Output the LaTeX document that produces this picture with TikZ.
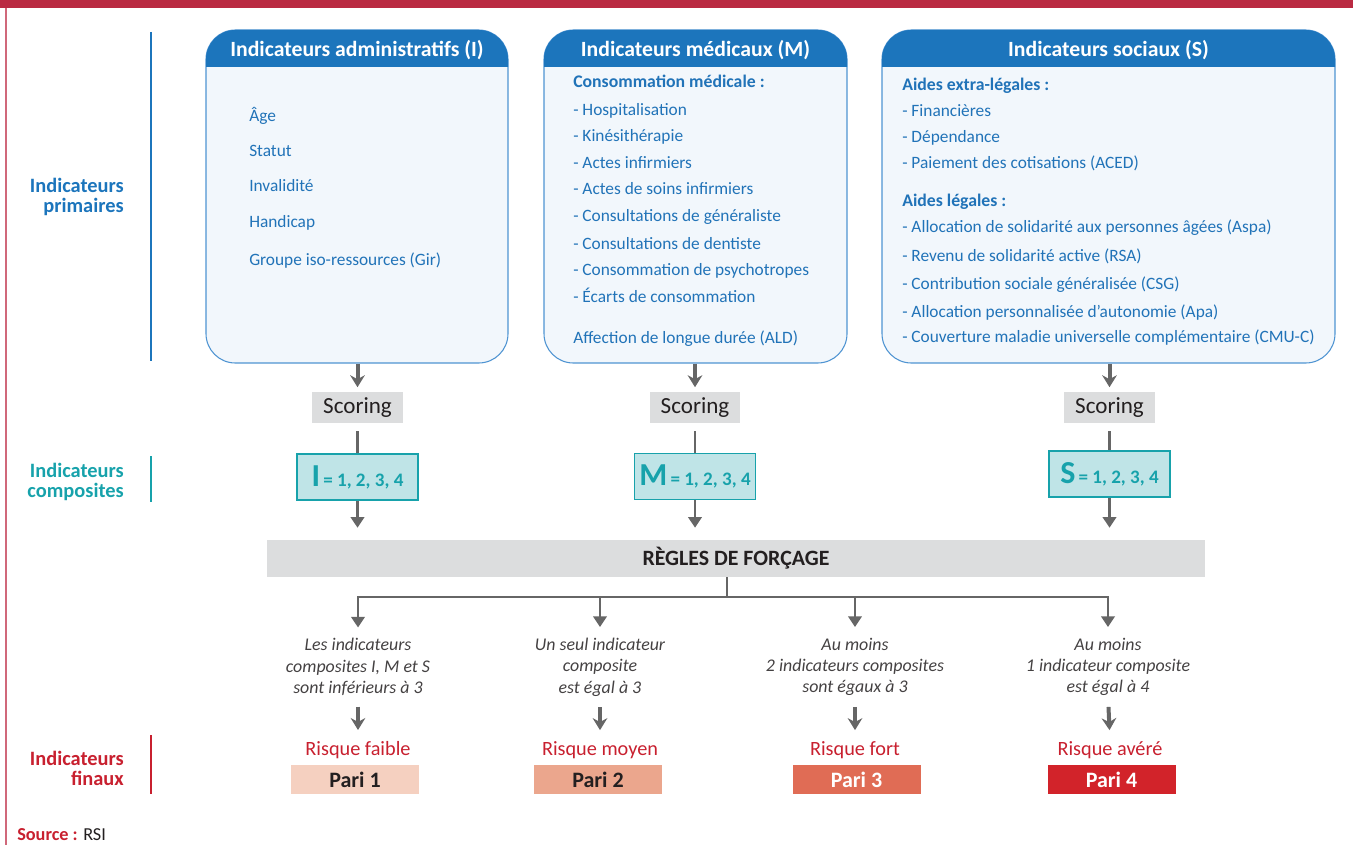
\documentclass[tikz,border=0pt]{standalone}
\usepackage{fontspec}
\setmainfont{Carlito}
\usetikzlibrary{arrows.meta,fit,positioning}

\definecolor{topred}{HTML}{BA2A42}
\definecolor{framered}{HTML}{D0687A}
\definecolor{hdrblue}{HTML}{1C75BC}
\definecolor{boxline}{HTML}{4F94D2}
\definecolor{boxfill}{HTML}{F2F7FC}
\definecolor{txtblue}{HTML}{2173B8}
\definecolor{tealc}{HTML}{17A2AB}
\definecolor{tealfill}{HTML}{BFE4E7}
\definecolor{labred}{HTML}{C8202F}
\definecolor{greyfill}{HTML}{DCDDDE}
\definecolor{arrgrey}{HTML}{666666}
\definecolor{darktxt}{HTML}{231F20}
\definecolor{pariA}{HTML}{F5D0C0}
\definecolor{pariB}{HTML}{EBA68D}
\definecolor{pariC}{HTML}{E06C55}
\definecolor{pariD}{HTML}{D2232A}

\tikzset{
  indbox/.style={draw=boxline, fill=boxfill, rounded corners=22pt, line width=0.8pt, inner sep=0pt},
  hdrtxt/.style={anchor=base, inner sep=0pt, text=white, font=\fontsize{16.3}{18}\selectfont\bfseries},
  item/.style={anchor=base west, inner sep=0pt, text=txtblue, font=\fontsize{13}{15}\selectfont},
  itemhd/.style={item, font=\fontsize{13.3}{15}\selectfont\bfseries},
  sidelbl/.style={align=right, anchor=east, inner sep=0pt, font=\fontsize{15.3}{15}\selectfont\bfseries},
  scorebox/.style={fill=greyfill, minimum width=68pt, minimum height=23pt, inner sep=0pt, text=darktxt, font=\fontsize{17.3}{18}\selectfont},
  compbox/.style={draw=tealc, fill=tealfill, line width=0.9pt, minimum width=90.75pt, minimum height=34.5pt, inner sep=0pt, text=tealc, font=\fontsize{14.3}{16}\selectfont\bfseries},
  condtxt/.style={align=center, inner sep=0pt, text=darktxt!85, font=\fontsize{13.4}{16}\selectfont\itshape},
  risktxt/.style={anchor=base, inner sep=0pt, text=labred, font=\fontsize{15.2}{17}\selectfont},
  paribox/.style={minimum width=96pt, minimum height=21.75pt, inner sep=0pt, font=\fontsize{16.5}{18}\selectfont\bfseries},
  fatarr/.style={draw=arrgrey, line width=3pt, -{Stealth[length=9pt, width=11pt, inset=3pt]}},
  arr/.style={draw=arrgrey, line width=2pt, -{Triangle[length=8pt, width=10pt]}},
  ln/.style={draw=arrgrey, line width=2pt},
}

\begin{document}
\begin{tikzpicture}[x=0.75pt, y=-0.75pt]
	\useasboundingbox (0,0) rectangle (1353,845);
	\fill[topred] (0,0) rectangle (1353,8);
	\draw[framered, line width=1pt] (6,8) -- (6,845);

	% side labels
	\draw[hdrblue, line width=2.2pt] (151,32) -- (151,361);
	\node[sidelbl, text=hdrblue] (lblprim) at (124,197) {Indicateurs\\primaires};
	\draw[tealc, line width=2.2pt] (151,456) -- (151,502);
	\node[sidelbl, text=tealc] (lblcomp) at (124,482) {Indicateurs\\composites};
	\draw[labred, line width=2.2pt] (151,735) -- (151,794);
	\node[sidelbl, text=labred] (lblfin) at (124,768) {Indicateurs\\finaux};

	% the three boxes
	\node[indbox, fit={(206,30) (508,363)}] (boxI) {};
	\fill[hdrblue] (206,67) [rounded corners=22pt] -- (206,30) -- (508,30) [sharp corners] -- (508,67) -- cycle;
	\node[hdrtxt] (hdrI) at (357,57) {Indicateurs administratifs (I)};
	\foreach \y/\t in {122/Âge, 157/Statut, 192/Invalidité, 228/Handicap, 265/Groupe iso-ressources (Gir)}
		\node[item] (itI\y) at (249,\y) {\t};

	\node[indbox, fit={(544,30) (847,363)}] (boxM) {};
	\fill[hdrblue] (544,67) [rounded corners=22pt] -- (544,30) -- (847,30) [sharp corners] -- (847,67) -- cycle;
	\node[hdrtxt] (hdrM) at (695.5,57) {Indicateurs médicaux (M)};
	\node[itemhd] (cons) at (573,88) {Consommation médicale :};
	\foreach \y/\t in {116/Hospitalisation, 142/Kinésithérapie, 169/Actes infirmiers, 195/Actes de soins infirmiers, 222/Consultations de généraliste, 249/Consultations de dentiste, 275/Consommation de psychotropes, 302/Écarts de consommation}
		\node[item] (itM\y) at (573,\y) {- \t};
	\node[item] (ald) at (573,343) {Affection de longue durée (ALD)};

	\node[indbox, fit={(882,30) (1335,363)}] (boxS) {};
	\fill[hdrblue] (882,67) [rounded corners=22pt] -- (882,30) -- (1335,30) [sharp corners] -- (1335,67) -- cycle;
	\node[hdrtxt] (hdrS) at (1108.5,57) {Indicateurs sociaux (S)};
	\node[itemhd] (extra) at (902,91) {Aides extra-légales :};
	\foreach \y/\t in {117/Financières, 143/Dépendance, 169/Paiement des cotisations (ACED)}
		\node[item] (itS\y) at (902,\y) {- \t};
	\node[itemhd] (legal) at (902,207) {Aides légales :};
	\foreach \y/\t in {233/Allocation de solidarité aux personnes âgées (Aspa), 262/Revenu de solidarité active (RSA), 289/Contribution sociale généralisée (CSG), 317/Allocation personnalisée d’autonomie (Apa), 342/Couverture maladie universelle complémentaire (CMU-C)}
		\node[item] (itS\y) at (902,\y) {- \t};

	% scoring
	\node[scorebox] (scI) at (357.5,407.5) {Scoring};
	\node[scorebox] (scM) at (695,407.5) {Scoring};
	\node[scorebox] (scS) at (1109.5,407.5) {Scoring};
	\draw[fatarr, shorten >=3.5pt] (boxI.south -| scI) -- (scI.north);
	\draw[fatarr, shorten >=3.5pt] (boxM.south -| scM) -- (scM.north);
	\draw[fatarr, shorten >=3.5pt] (boxS.south -| scS) -- (scS.north);

	% composites
	\node[compbox] (compI) at (357.5,477) {{\fontsize{24}{24}\selectfont I}\,= 1, 2, 3, 4};
	\node[compbox] (compM) at (695,476.5) {{\fontsize{24}{24}\selectfont M}\,= 1, 2, 3, 4};
	\node[compbox] (compS) at (1109.5,474) {{\fontsize{24}{24}\selectfont S}\,= 1, 2, 3, 4};
	\draw[ln, shorten <=6pt] (scI.south) -- (compI.north);
	\draw[ln, shorten <=6pt] (scM.south) -- (compM.north);
	\draw[ln, shorten <=6pt] (scS.south) -- (compS.north);

	% forcing rules
	\node[fill=greyfill, minimum width=703.5pt, minimum height=27.75pt, inner sep=0pt, text=darktxt, font=\fontsize{16.4}{18}\selectfont\bfseries] (bar) at (736,558.5) {RÈGLES DE FORÇAGE};
	\draw[arr, shorten >=9pt] (compI.south) -- (compI.south |- bar.north);
	\draw[arr, shorten >=9pt] (compM.south) -- (compM.south |- bar.north);
	\draw[arr, shorten >=9pt] (compS.south) -- (compS.south |- bar.north);

	\node[condtxt] (cond1) at (358,667) {Les indicateurs\\composites I, M et S\\sont inférieurs à 3};
	\node[condtxt] (cond2) at (600,667) {Un seul indicateur\\composite\\est égal à 3};
	\node[condtxt] (cond3) at (855,667) {Au moins\\2 indicateurs composites\\sont égaux à 3};
	\node[condtxt] (cond4) at (1108,667) {Au moins\\1 indicateur composite\\est égal à 4};

	\coordinate (split) at (727,597);
	\draw[ln] (bar.south -| split) -- (split);
	\foreach \k in {1,2,3,4}
		\draw[arr, shorten >=8pt] (split) -| (cond\k.north);

	% final indicators
	\node[risktxt] (risk1) at (358,755) {Risque faible};
	\node[risktxt] (risk2) at (600,755) {Risque moyen};
	\node[risktxt] (risk3) at (855,755) {Risque fort};
	\node[risktxt] (risk4) at (1110,755) {Risque avéré};
	\foreach \k in {1,2,3,4}
		\draw[fatarr, shorten <=8pt, shorten >=8pt] (cond\k.south) -- (risk\k.north);

	\node[paribox, fill=pariA, text=darktxt] (pari1) at (355,779.5) {Pari 1};
	\node[paribox, fill=pariB, text=darktxt] (pari2) at (598,779.5) {Pari 2};
	\node[paribox, fill=pariC, text=white] (pari3) at (856.5,779.5) {Pari 3};
	\node[paribox, fill=pariD, text=white] (pari4) at (1111.5,779.5) {Pari 4};

	\node[anchor=base west, inner sep=0pt, font=\fontsize{13.7}{15}\selectfont] (src) at (17,840) {\textcolor{labred}{\bfseries Source :} \textcolor{darktxt}{RSI}};
\end{tikzpicture}
\end{document}
